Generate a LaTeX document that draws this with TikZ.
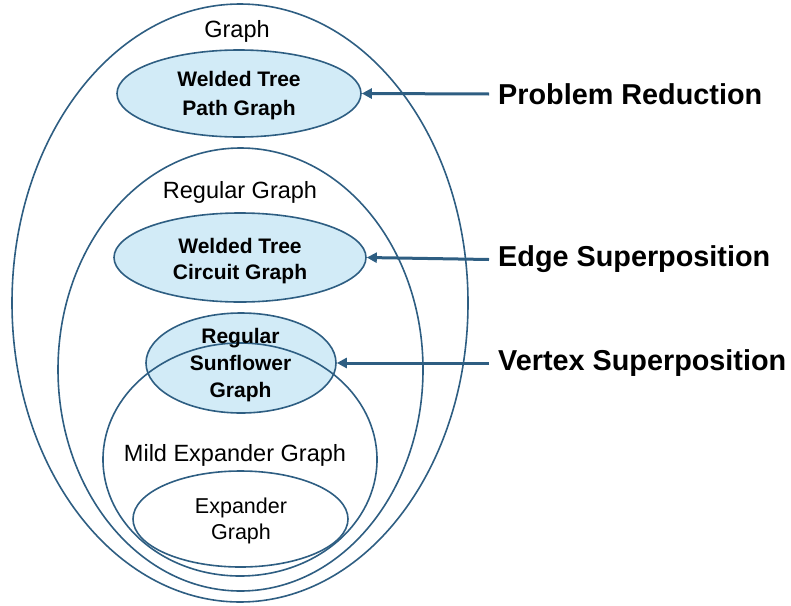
\documentclass[tikz,border=0pt]{standalone}
\usepackage{fontspec}
\setmainfont{Liberation Sans}
\usetikzlibrary{shapes.geometric,arrows.meta}
\definecolor{edgeblue}{RGB}{46,94,130}
\definecolor{paleblue}{RGB}{210,235,247}
\tikzset{
  ring/.style={ellipse, draw=edgeblue, line width=1.6pt, inner sep=0pt},
  keyring/.style={ring, fill=paleblue},
  settext/.style={font=\fontsize{23.5}{28}\selectfont, align=center, inner sep=0pt},
  keytext/.style={font=\bfseries\fontsize{21}{27}\selectfont, align=center, inner sep=0pt},
  sidelabel/.style={font=\bfseries\fontsize{28.8}{32}\selectfont, anchor=west, inner xsep=9pt, inner ysep=0pt},
  conn/.style={draw=edgeblue, line width=3pt, -{Triangle[length=10pt,width=10pt]}}
}
\begin{document}
\begin{tikzpicture}[x=1pt,y=-1pt]
\useasboundingbox (0,0) rectangle (791,605);

% nested graph classes
\node[ring, minimum width=456pt, minimum height=598pt] (graph) at (240,303) {};
\node[ring, minimum width=365pt, minimum height=443pt] (regular) at (240.5,369.5) {};
\node[keyring, minimum width=244pt, minimum height=87pt] (path) at (239,93.5) {};
\node[keyring, minimum width=252pt, minimum height=89pt] (circuit) at (240,257.5) {};
\node[keyring, minimum width=190pt, minimum height=100pt] (sunflower) at (241,363) {};
\node[ring, minimum width=274pt, minimum height=233pt] (mild) at (240,459.5) {};
\node[ring, minimum width=215pt, minimum height=96pt] (expander) at (240.5,519) {};

% class names
\node[settext] (tgraph) at (237,31) {Graph};
\node[settext] (tregular) at (240,192) {Regular Graph};
\node[settext] (tmild) at (235,455.5) {Mild Expander Graph};
\node[settext, font=\fontsize{21.5}{26}\selectfont] (texpander) at (241,521) {Expander\\Graph};
\node[keytext, font=\bfseries\fontsize{21}{29}\selectfont] (tpath) at (239,95.5) {Welded Tree\\Path Graph};
\node[keytext, font=\bfseries\fontsize{21}{26}\selectfont] (tcircuit) at (240,261) {Welded Tree\\Circuit Graph};
\node[keytext] (tsunflower) at (240.5,365) {Regular\\Sunflower\\Graph};

% techniques
\node[sidelabel] (reduction) at (489,94) {Problem Reduction};
\node[sidelabel] (edge) at (489,259.5) {Edge Superposition};
\node[sidelabel] (vertex) at (489,363) {Vertex Superposition};

\draw[conn] (reduction.west) -- (path.east);
\draw[conn] (edge.west) -- (circuit.east);
\draw[conn] (vertex.west) -- (sunflower.east);
\end{tikzpicture}
\end{document}
